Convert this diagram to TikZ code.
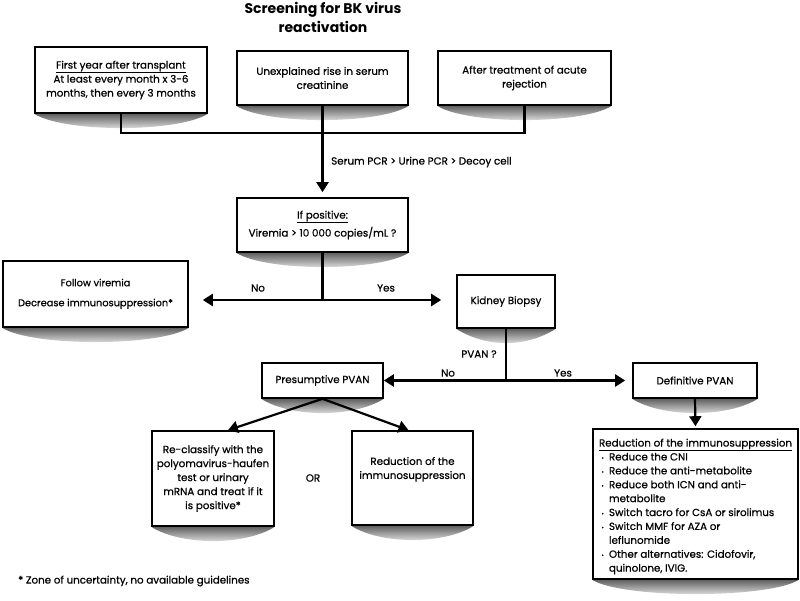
\documentclass[tikz,border=0pt]{standalone}
\usepackage{fontspec}
\setmainfont{Poppins}[UprightFeatures={FakeBold=0.6}]
\usetikzlibrary{arrows.meta,backgrounds,calc}
\newcommand{\bitm}[1]{\makebox[10pt][l]{\hspace{2.5pt}\raisebox{0.5pt}{\scalebox{0.55}{\textbullet}}}#1}
\newcommand{\bcnt}[1]{\hspace*{10pt}#1}
\newcommand{\shad}[1]{\shade[top color=black!62, bottom color=white]
  (#1.south west) .. controls ($(#1.south west)+(30,19)$) and ($(#1.south east)+(-30,19)$) .. (#1.south east) -- cycle;}
\begin{document}
\begin{tikzpicture}[x=1pt,y=-1pt,
  box/.style={draw, line width=1.6pt, fill=white, align=center, inner sep=2pt,
    font=\fontsize{10.3}{14}\selectfont},
  conn/.style={line width=2.2pt},
  arr/.style={line width=2.2pt, -{Triangle[width=12pt,length=10pt]}},
  lbl/.style={font=\fontsize{10.3}{12}\selectfont, inner sep=0pt}]
\useasboundingbox (0,0) rectangle (800,601);

\node[font=\fontsize{14}{19}\selectfont\bfseries, align=center] (title) at (323,17) {Screening for BK virus\\reactivation};

\node[box, minimum width=172pt, minimum height=66pt] (b1) at (121,80)
  {\underline{First year after transplant}\\At least every month x 3-6\\months, then every 3 months};
\node[box, minimum width=171pt, minimum height=54pt] (b2) at (322.5,78)
  {Unexplained rise in serum\\creatinine};
\node[box, minimum width=173pt, minimum height=54pt] (b3) at (524.5,78)
  {After treatment of acute\\rejection};
\node[box, minimum width=171pt, minimum height=54pt, font=\fontsize{10.3}{18}\selectfont] (b4) at (322.5,225)
  {\underline{If positive:}\\Viremia > 10 000 copies/mL ?};
\node[box, minimum width=185pt, minimum height=66pt, font=\fontsize{9.8}{20}\selectfont, text depth=3pt] (b5) at (95.5,294)
  {Follow viremia\\Decrease immunosuppression*};
\node[box, minimum width=98pt, minimum height=53pt] (kid) at (506,301.5) {Kidney Biopsy};
\node[box, minimum width=121pt, minimum height=35pt] (pres) at (322.5,380.5) {Presumptive PVAN};
\node[box, minimum width=124pt, minimum height=35pt] (defn) at (695,380.5) {Definitive PVAN};
\node[box, minimum width=122pt, minimum height=95pt] (recl) at (213,478.5)
  {Re-classify with the\\polyomavirus-haufen\\test or urinary\\mRNA and treat if it\\is positive*};
\node[box, minimum width=121pt, minimum height=94pt] (redu) at (412.5,478)
  {Reduction of the\\immunosuppression\\[6pt]};
\node[box, minimum width=205pt, minimum height=150pt] (big) at (695.5,504) {};
\node[align=left, inner sep=0pt, font=\fontsize{10.3}{13.9}\selectfont] (bigt) at (695.5,506.5)
  {\underline{Reduction of the immunosuppression}\\
   \bitm{Reduce the CNI}\\
   \bitm{Reduce the anti-metabolite}\\
   \bitm{Reduce both ICN and anti-}\\
   \bcnt{metabolite}\\
   \bitm{Switch tacro for CsA or sirolimus}\\
   \bitm{Switch MMF for AZA or}\\
   \bcnt{leflunomide}\\
   \bitm{Other alternatives: Cidofovir,}\\
   \bcnt{quinolone, IVIG.}};

\begin{scope}[on background layer]
  \fill[white] (0,0) rectangle (800,601);
  \foreach \n in {b1,b2,b3,b4,b5,kid,pres,defn,recl,redu,big}{\shad{\n}}
\end{scope}

% connectors
\coordinate (m1) at (121,133);
\draw[conn] (b1.south) -- (m1) -- (b3.south |- m1) -- (b3.south);
\draw[arr, shorten >=5pt] (b2.south) -- (b4.north);
\node[lbl, anchor=west] (serum) at (331,162) {Serum PCR > Urine PCR > Decoy cell};

\coordinate (s1) at (322.5,300);
\draw[conn] (b4.south) -- (s1);
\draw[arr, shorten >=14pt] (s1) -- (b5.east |- s1);
\draw[arr, shorten >=15pt] (s1) -- (kid.west |- s1);
\node[lbl] (no1) at (258,288) {No};
\node[lbl] (yes1) at (386,288) {Yes};

\coordinate (s2) at (506,380.5);
\draw[conn] (kid.south) -- (s2);
\draw[arr] (s2) -- (pres.east);
\draw[arr, shorten >=7pt] (s2) -- (defn.west);
\node[lbl] (pvanq) at (479,354) {PVAN ?};
\node[lbl] (no2) at (448,373) {No};
\node[lbl] (yes2) at (563,373) {Yes};

\draw[arr] (pres.south) -- ($(recl.north)+(15,0)$);
\draw[arr] (pres.south) -- ($(redu.north)+(-4,0)$);
\node[lbl] (or) at (313,478) {OR};
\draw[arr, shorten >=2pt] (defn.south) -- (big.north);

\node[lbl, anchor=west] (foot) at (18,581) {* Zone of uncertainty, no available guidelines};
\end{tikzpicture}
\end{document}
